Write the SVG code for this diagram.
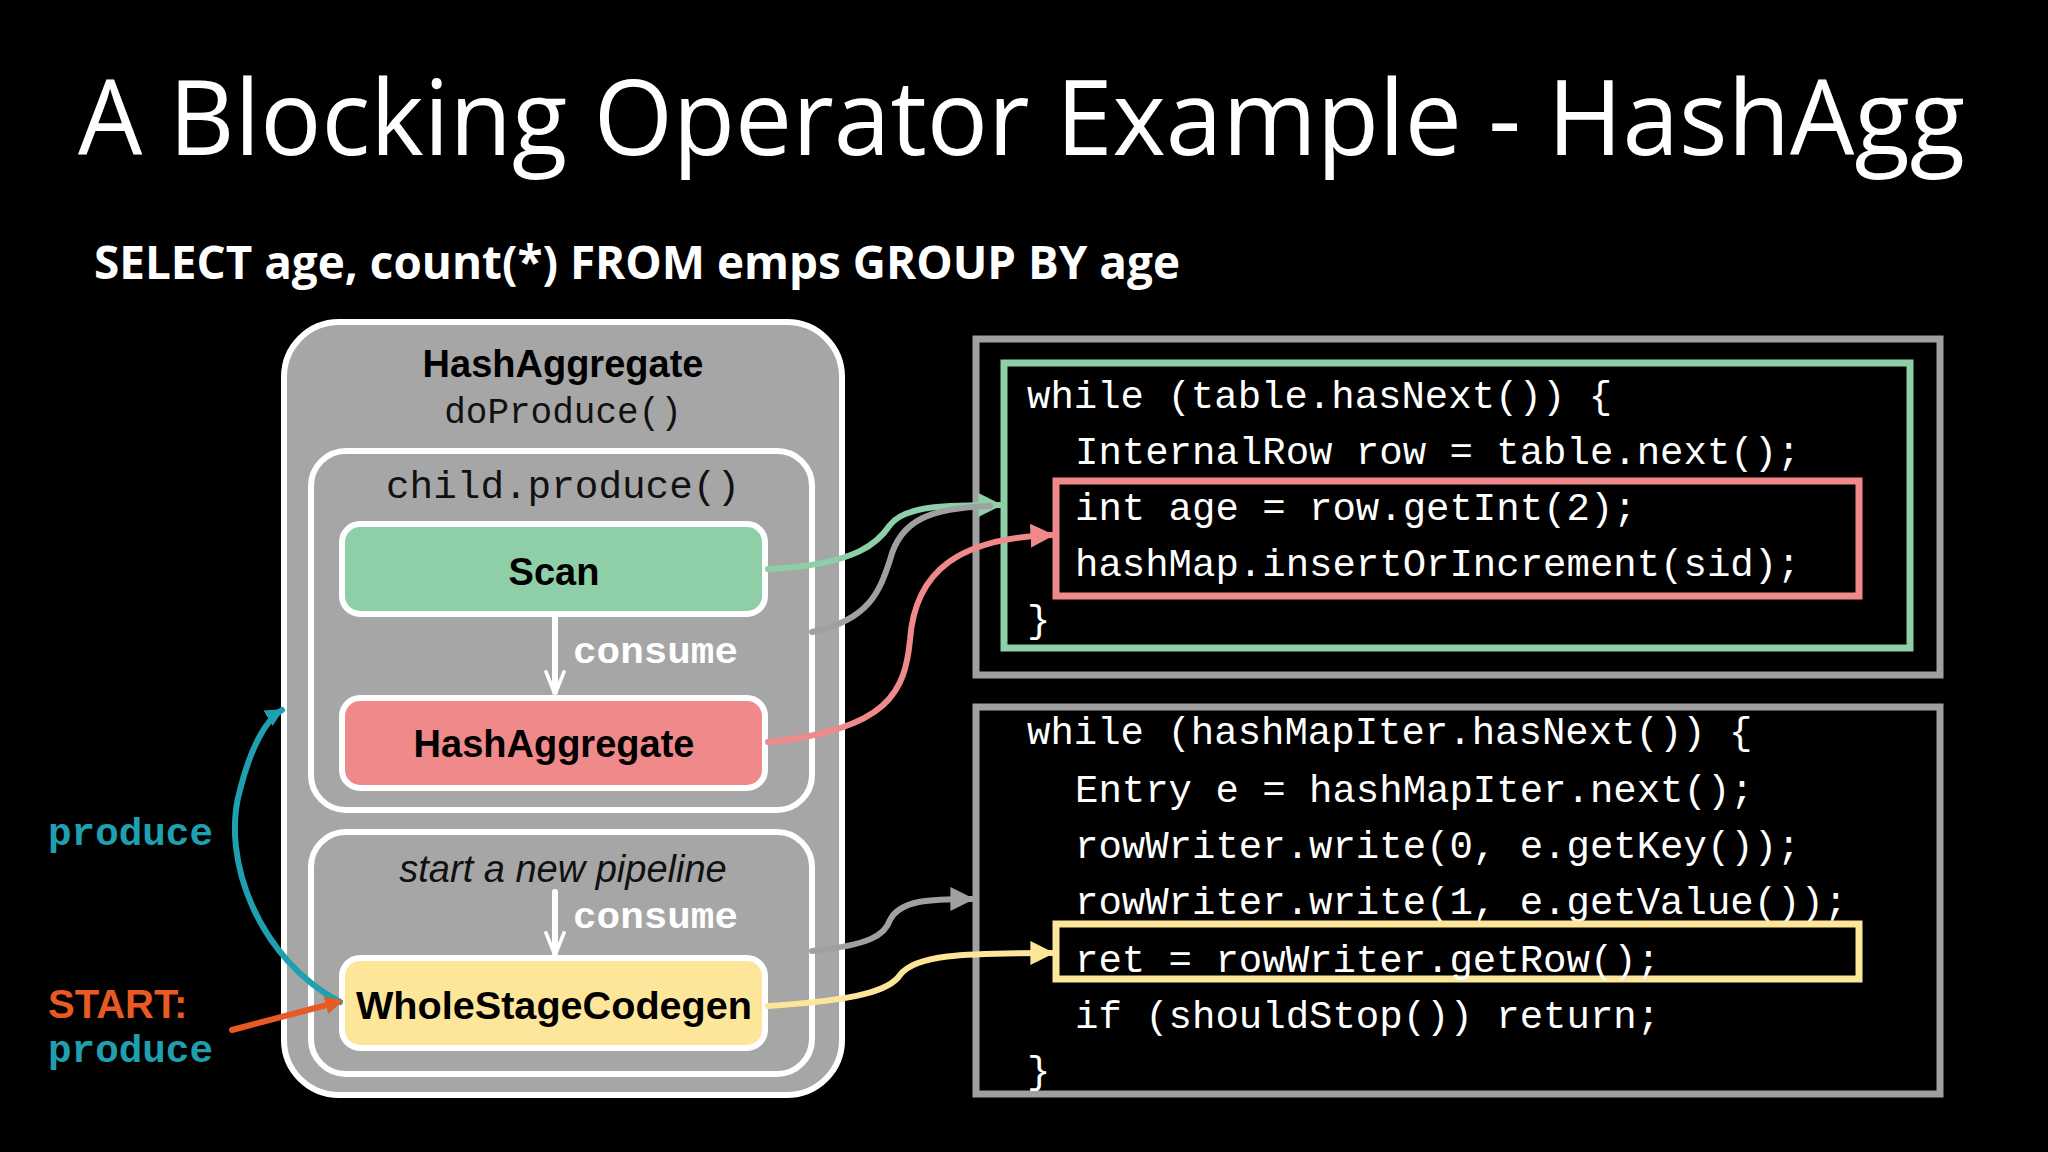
<svg xmlns="http://www.w3.org/2000/svg" width="2048" height="1152" viewBox="0 0 2048 1152">
<defs>
<style>
.mono{font-family:"Liberation Mono","Courier New",monospace}
.sans{font-family:"Liberation Sans",Arial,sans-serif}
.code{font-family:"Liberation Mono",monospace;font-size:39px;fill:#fff}
.conn{fill:none;stroke-width:6;stroke-linecap:round}
.node{stroke:#fff;stroke-width:6}
</style>
<marker id="aG" viewBox="0 0 10 10" refX="9" refY="5" markerWidth="4" markerHeight="4" orient="auto"><path d="M0,0L10,5L0,10z" fill="#8ecfa8"/></marker>
<marker id="aR" viewBox="0 0 10 10" refX="9" refY="5" markerWidth="4" markerHeight="4" orient="auto"><path d="M0,0L10,5L0,10z" fill="#f08a8a"/></marker>
<marker id="aY" viewBox="0 0 10 10" refX="9" refY="5" markerWidth="4" markerHeight="4" orient="auto"><path d="M0,0L10,5L0,10z" fill="#fde59a"/></marker>
<marker id="aS" viewBox="0 0 10 10" refX="9" refY="5" markerWidth="4" markerHeight="4" orient="auto"><path d="M0,0L10,5L0,10z" fill="#a0a0a0"/></marker>
<marker id="aT" viewBox="0 0 10 10" refX="9" refY="5" markerWidth="3" markerHeight="3" orient="auto"><path d="M0,0L10,5L0,10z" fill="#1fa0b0"/></marker>
<marker id="aO" viewBox="0 0 10 10" refX="7" refY="5" markerWidth="3" markerHeight="3" orient="auto"><path d="M0,0L10,5L0,10z" fill="#e85a24"/></marker>
<marker id="aW" viewBox="0 0 10 10" refX="9" refY="5" markerWidth="4" markerHeight="4" orient="auto"><path d="M0,1L10,5L0,9" fill="none" stroke="#fff" stroke-width="1.5"/></marker>
</defs>
<rect width="2048" height="1152" fill="#000"/>
<text x="78" y="155" font-family="Open Sans,sans-serif" font-size="104" fill="#fff" textLength="1887" lengthAdjust="spacingAndGlyphs">A Blocking Operator Example - HashAgg</text>
<text x="94" y="279" font-family="Open Sans,sans-serif" font-weight="bold" font-size="46" fill="#fff" textLength="1086" lengthAdjust="spacingAndGlyphs">SELECT age, count(*) FROM emps GROUP BY age</text>

<g id="outer">
<rect x="284" y="322" width="558" height="773" rx="55" fill="#a6a6a6" class="node"/>
<text x="563" y="377" text-anchor="middle" class="sans" font-weight="bold" font-size="38" fill="#000">HashAggregate</text>
<text x="563" y="423" text-anchor="middle" class="mono" font-size="36" fill="#111">doProduce()</text>
</g>
<g id="pipeline1">
<rect x="311" y="451" width="501" height="359" rx="35" fill="#a6a6a6" class="node"/>
<text x="563" y="498" text-anchor="middle" class="mono" font-size="38" fill="#111" textLength="354" lengthAdjust="spacingAndGlyphs">child.produce()</text>
</g>
<g id="scan">
<rect x="342" y="524" width="423" height="90" rx="18" fill="#8ecfa8" class="node"/>
<text x="554" y="585" text-anchor="middle" class="sans" font-weight="bold" font-size="38" fill="#000">Scan</text>
</g>
<g id="hashagg">
<rect x="342" y="698" width="423" height="90" rx="18" fill="#f08a8a" class="node"/>
<text x="554" y="757" text-anchor="middle" class="sans" font-weight="bold" font-size="38" fill="#000">HashAggregate</text>
</g>
<g id="pipeline2">
<rect x="311" y="832" width="501" height="242" rx="35" fill="#a6a6a6" class="node"/>
<text x="563" y="882" text-anchor="middle" class="sans" font-style="italic" font-size="38" fill="#111">start a new pipeline</text>
</g>
<g id="wscg">
<rect x="342" y="958" width="423" height="90" rx="18" fill="#fde59a" class="node"/>
<text x="554" y="1019" text-anchor="middle" class="sans" font-weight="bold" font-size="39" fill="#000" textLength="396" lengthAdjust="spacingAndGlyphs">WholeStageCodegen</text>
</g>

<g id="code1">
<rect x="976" y="339" width="964" height="336" fill="#000" stroke="#a0a0a0" stroke-width="7"/>
<rect x="1004" y="363" width="906" height="285" fill="none" stroke="#8ecfa8" stroke-width="7"/>
<rect x="1056" y="481" width="803" height="115" fill="none" stroke="#f08a8a" stroke-width="7"/>
<text x="1027" y="408" class="code">while (table.hasNext()) {</text>
<text x="1075" y="464" class="code">InternalRow row = table.next();</text>
<text x="1075" y="520" class="code">int age = row.getInt(2);</text>
<text x="1075" y="576" class="code">hashMap.insertOrIncrement(sid);</text>
<text x="1027" y="632" class="code">}</text>
</g>
<g id="code2">
<rect x="976" y="707" width="964" height="387" fill="#000" stroke="#a0a0a0" stroke-width="7"/>
<text x="1027" y="744" class="code">while (hashMapIter.hasNext()) {</text>
<text x="1075" y="802" class="code">Entry e = hashMapIter.next();</text>
<text x="1075" y="858" class="code">rowWriter.write(0, e.getKey());</text>
<text x="1075" y="914" class="code">rowWriter.write(1, e.getValue());</text>
<rect x="1056" y="924" width="803" height="55" fill="none" stroke="#fde59a" stroke-width="7"/>
<text x="1075" y="972" class="code">ret = rowWriter.getRow();</text>
<text x="1075" y="1028" class="code">if (shouldStop()) return;</text>
<text x="1027" y="1083" class="code">}</text>
</g>

<g id="labels">
<text x="573" y="663" class="mono" font-weight="bold" font-size="37" fill="#fff" textLength="165" lengthAdjust="spacingAndGlyphs">consume</text>
<text x="573" y="928" class="mono" font-weight="bold" font-size="37" fill="#fff" textLength="165" lengthAdjust="spacingAndGlyphs">consume</text>
<text x="48" y="845" class="mono" font-weight="bold" font-size="38" fill="#1fa0b0" textLength="165" lengthAdjust="spacingAndGlyphs">produce</text>
<text x="48" y="1018" class="sans" font-weight="bold" font-size="40" fill="#e85a24">START:</text>
<text x="48" y="1062" class="mono" font-weight="bold" font-size="38" fill="#1fa0b0" textLength="165" lengthAdjust="spacingAndGlyphs">produce</text>
</g>

<g id="connectors">
<path class="conn" d="M555,616 L555,692" stroke="#fff" stroke-width="3" marker-end="url(#aW)"/>
<path class="conn" d="M555,892 L555,953" stroke="#fff" stroke-width="3" marker-end="url(#aW)"/>
<path class="conn" d="M768,569 C860,565 880,540 890,525 C905,505 950,505 1000,505" stroke="#8ecfa8" marker-end="url(#aG)"/>
<path class="conn" d="M812,632 C870,620 880,590 890,560 C900,520 930,508 990,506" stroke="#a0a0a0"/>
<path class="conn" d="M768,742 C890,730 905,690 910,640 C915,570 960,538 1052,535" stroke="#f08a8a" marker-end="url(#aR)"/>
<path class="conn" d="M812,951 C870,945 885,935 890,920 C900,900 930,899 972,899" stroke="#a0a0a0" marker-end="url(#aS)"/>
<path class="conn" d="M768,1006 C860,1000 890,990 900,975 C915,955 960,953 1052,953" stroke="#fde59a" marker-end="url(#aY)"/>
<path class="conn" d="M340,1002 C260,960 220,860 240,790 C250,750 265,720 282,710" stroke="#1fa0b0" marker-end="url(#aT)"/>
<path class="conn" d="M232,1030 L338,1002" stroke="#e85a24" stroke-width="9" marker-end="url(#aO)"/>
</g>
</svg>
